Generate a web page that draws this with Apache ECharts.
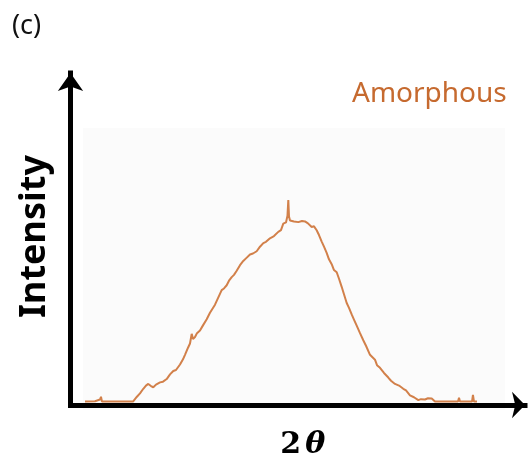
<!DOCTYPE html>
<html>
<head>
<meta charset="utf-8">
<script src="https://cdn.jsdelivr.net/npm/echarts@6/dist/echarts.min.js"></script>
<style>html,body{margin:0;padding:0;background:#fff}#c{width:531px;height:465px}</style>
</head>
<body>
<div id="c"></div>
<script>
// 2θ positions (arbitrary units) and intensity (arbitrary units)
const twoTheta = [3.15,5.32,6.41,6.62,6.84,13.57,14.38,15.09,15.81,16.39,16.89,17.48,17.98,18.57,19.00,19.44,20.09,20.89,21.61,22.32,22.91,23.78,24.43,24.86,25.52,25.95,26.32,26.60,27.04,27.47,28.12,28.77,29.58,30.29,31.38,32.03,32.83,33.33,33.92,34.42,35.01,35.50,36.09,36.81,37.52,38.11,38.98,39.63,40.43,41.15,41.87,42.45,43.32,44.19,45.12,45.71,46.21,46.80,47.12,47.30,47.45,47.67,48.53,49.47,50.27,50.92,51.57,52.38,52.88,53.46,53.96,54.55,55.05,55.63,56.13,56.72,57.22,57.81,58.31,58.89,59.39,59.98,60.48,61.06,61.56,62.15,62.87,63.58,64.17,65.04,65.47,66.12,66.56,67.21,68.08,69.01,69.60,70.47,71.34,72.27,72.86,73.72,74.59,75.53,76.11,76.98,77.63,78.44,79.15,84.15,84.37,84.58,87.19,87.40,87.62,88.27];
const intensity = [1.0,1.1,1.6,2.42,1.0,1.0,2.36,3.42,4.76,5.70,6.18,5.56,5.21,5.98,5.70,6.64,6.84,7.61,8.97,9.97,10.26,11.88,13.39,14.73,16.81,18.03,20.88,19.37,19.94,21.08,21.85,23.36,25.16,27.07,29.43,31.34,33.70,34.19,35.13,36.47,37.52,38.18,39.40,41.03,42.25,43.02,44.16,44.44,45.10,46.44,47.49,47.86,48.92,49.57,50.80,51.28,53.19,53.56,55.56,60.11,55.27,54.13,53.85,53.65,53.99,53.85,53.28,52.22,52.42,51.28,49.86,47.95,46.44,44.64,42.74,41.31,39.60,38.95,37.04,34.67,32.48,29.91,28.49,26.58,25.07,23.28,21.08,19.00,17.38,14.73,14.25,13.30,11.68,10.91,9.40,8.06,7.12,6.18,5.70,4.76,4.27,2.85,2.28,1.42,1.71,1.62,1.99,1.91,1.0,1.0,2.14,1.0,1.0,2.99,1.0,1.0];
const panelLabel = '(c)';
const seriesName = 'Amorphous';
const yName = 'Intensity';

const chart = echarts.init(document.getElementById('c'), null, {renderer: 'canvas'});
const axisLineStyle = {color: '#000', width: 5, cap: 'square'};
chart.setOption({
  animation: false,
  backgroundColor: '#fff',
  title: [
    {text: panelLabel, left: 12, top: 13, padding: 0, textStyle: {fontFamily: 'Noto Sans', fontSize: 27, fontWeight: 'normal', color: '#111'}},
    {text: seriesName, left: 352, top: 80, padding: 0, textStyle: {fontFamily: 'Noto Sans', fontSize: 28, fontWeight: 'normal', color: '#c66a2f'}}
  ],
  graphic: [
    {type: 'rect', z: -1, shape: {x: 83, y: 128, width: 422, height: 282}, style: {fill: '#fbfbfb'}}
  ],
  grid: {left: 70.5, right: 6, top: 73, bottom: 50},
  xAxis: {
    type: 'value', min: 0, max: 98.7,
    name: '{a|2}{b|θ}', nameLocation: 'middle', nameGap: 25,
    nameTextStyle: {
      padding: [0, 0, 0, 10],
      rich: {
        a: {fontFamily: 'DejaVu Serif', fontSize: 30, fontWeight: 'bold', color: '#000'},
        b: {fontFamily: 'DejaVu Serif', fontSize: 30, fontWeight: 'bold', fontStyle: 'italic', color: '#000', padding: [0, 0, 0, 4]}
      }
    },
    axisLine: {show: true, onZero: false, symbol: ['none', 'arrow'], symbolSize: [20, 13], lineStyle: axisLineStyle},
    axisTick: {show: false}, axisLabel: {show: false}, splitLine: {show: false}
  },
  yAxis: {
    type: 'value', min: 0, max: 97.4,
    name: yName, nameLocation: 'middle', nameGap: 18, nameRotate: 90,
    nameTextStyle: {fontFamily: 'Noto Sans', fontSize: 36, fontWeight: 'bold', color: '#000', padding: [0, 0, 0, 5]},
    axisLine: {show: true, onZero: false, symbol: ['none', 'arrow'], symbolSize: [19, 18], lineStyle: axisLineStyle},
    axisTick: {show: false}, axisLabel: {show: false}, splitLine: {show: false}
  },
  series: [{
    type: 'line', name: seriesName, showSymbol: false, z: 1,
    data: twoTheta.map((x, i) => [x, intensity[i]]),
    lineStyle: {color: '#d2804a', width: 2},
    silent: true
  }]
});
</script>
</body>
</html>
